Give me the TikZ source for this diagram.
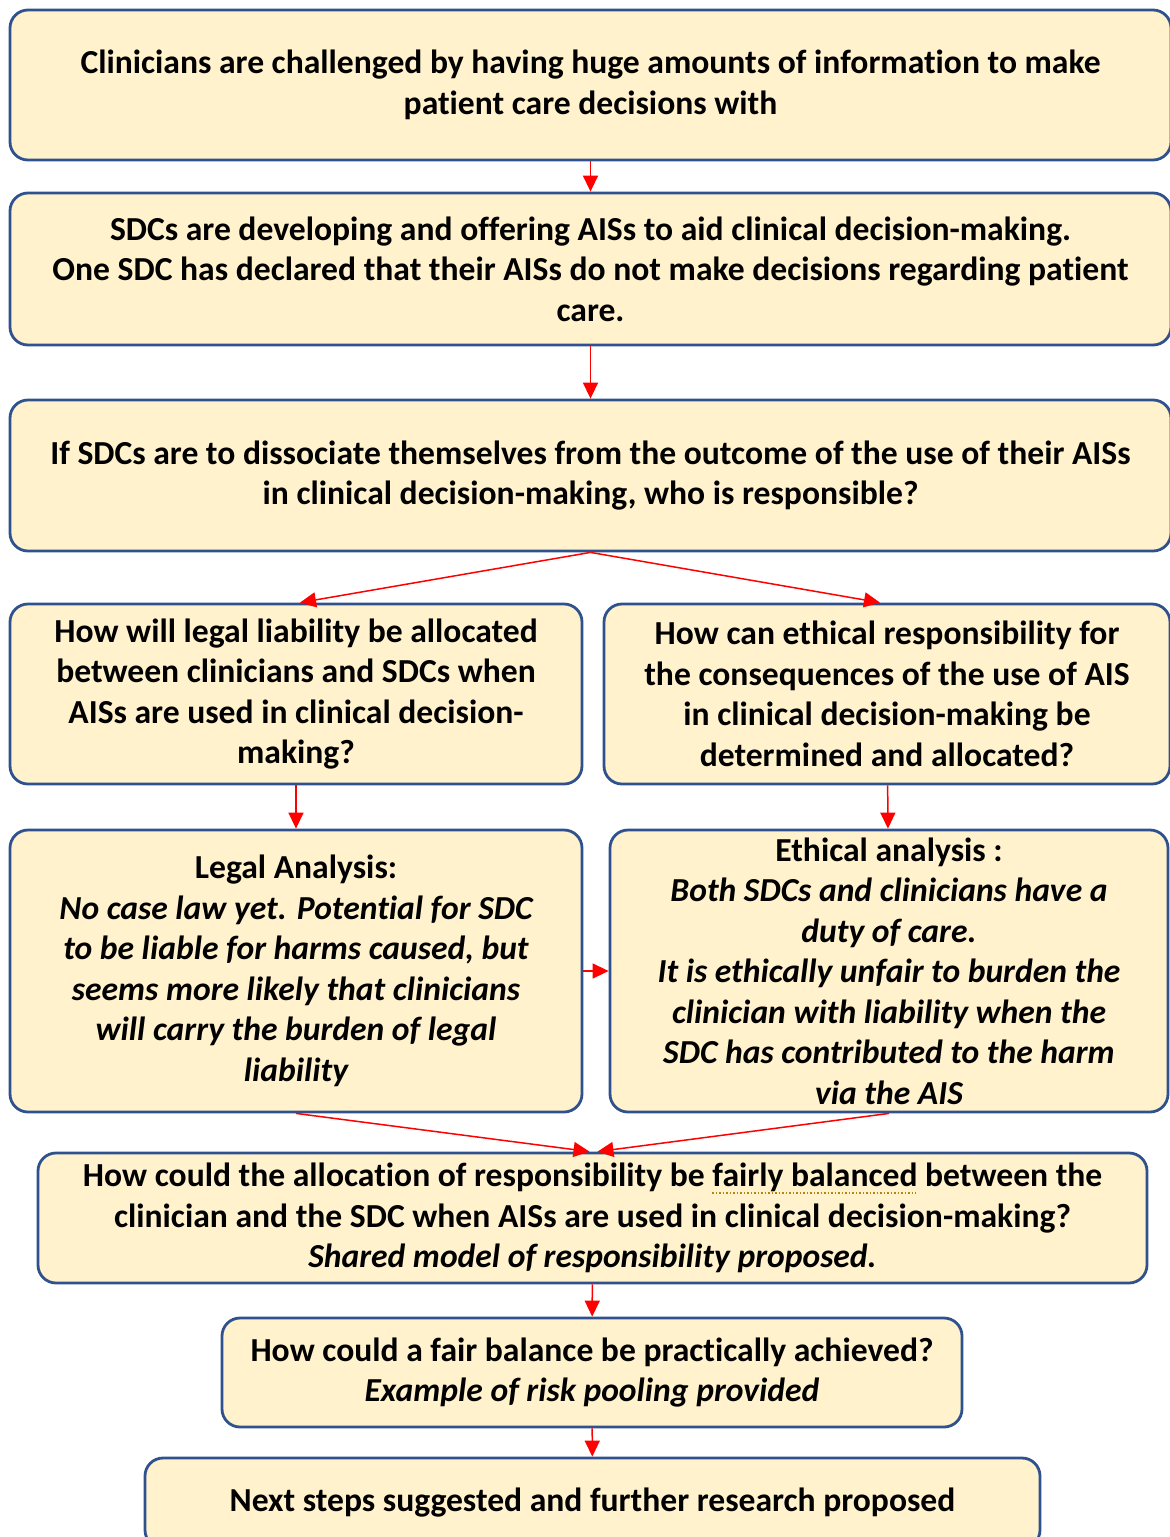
\documentclass[tikz,border=0pt]{standalone}
\usepackage{fontspec}
\setmainfont{Carlito}[Ligatures={NoCommon}]
\usepackage{xcolor}
\usepackage{tikz}
\usetikzlibrary{arrows.meta}
\usetikzlibrary{positioning}

\definecolor{boxfill}{HTML}{FFF2CC}
\definecolor{boxline}{HTML}{2F528F}
\definecolor{squiggle}{HTML}{B8860B}

\tikzset{
  stepbox/.style={draw=boxline, fill=boxfill, line width=2.8pt, rounded corners=18pt,
    align=center, inner sep=0pt, font=\fontsize{33.6}{40.5}\selectfont\bfseries},
  flow/.style={draw=red, line width=1.5pt, -{Triangle[length=16pt,width=15pt]}}
}

\begin{document}
\begin{tikzpicture}[x=1pt,y=-1pt]
        \useasboundingbox (0,0) rectangle (1170,1537);
        \clip (0,0) rectangle (1170,1537);
        \node[stepbox, minimum width=1161pt, minimum height=150pt] (info) at (590.5,85)
          {Clinicians are challenged by having huge amounts of information to make\\patient care decisions with};
        \node[stepbox, minimum width=1161pt, minimum height=152pt] (offer) at (590.5,269)
          {SDCs are developing and offering AISs to aid clinical decision-making.\\One SDC has declared that their AISs do not make decisions regarding patient\\care.};
        \node[stepbox, minimum width=1161pt, minimum height=151pt] (who) at (590.5,475.5)
          {If SDCs are to dissociate themselves from the outcome of the use of their AISs\\in clinical decision-making, who is responsible?};
        \node[stepbox, minimum width=572pt, minimum height=180pt] (legalq) at (296,694)
          {How will legal liability be allocated\\between clinicians and SDCs when\\AISs are used in clinical decision-\\making?};
        \node[stepbox, minimum width=566pt, minimum height=180pt] (ethicq) at (887,694)
          {How can ethical responsibility for\\the consequences of the use of AIS\\in clinical decision-making be\\determined and allocated?};
        \node[stepbox, minimum width=572pt, minimum height=282pt] (legala) at (296,971)
          {Legal Analysis:\\\itshape No case law yet. Potential for SDC\\\itshape to be liable for harms caused, but\\\itshape seems more likely that clinicians\\\itshape will carry the burden of legal\\\itshape liability};
        \node[stepbox, minimum width=558pt, minimum height=282pt] (ethica) at (889,971)
          {Ethical analysis :\\\itshape Both SDCs and clinicians have a\\\itshape duty of care.\\\itshape It is ethically unfair to burden the\\\itshape clinician with liability when the\\\itshape SDC has contributed to the harm\\\itshape via the AIS};
        \node[stepbox, minimum width=1109pt, minimum height=130pt] (balance) at (592.5,1218)
          {How could the allocation of responsibility be fairly balanced between the\\clinician and the SDC when AISs are used in clinical decision-making?\\\itshape Shared model of responsibility proposed.};
        \node[stepbox, minimum width=740pt, minimum height=109pt] (pool) at (592,1372.5)
          {How could a fair balance be practically achieved?\\\itshape Example of risk pooling provided};
        \node[stepbox, minimum width=895pt, minimum height=90pt] (next) at (592.5,1503)
          {Next steps suggested and further research proposed};
        \draw[squiggle, line width=1.5pt, dotted] (712,1193) -- (916,1193);
        \draw[flow] (info) -- (offer);
        \draw[flow] (offer) -- (who);
        \draw[flow] (who.south) -- ([xshift=4pt]legalq.north);
        \draw[flow] (who.south) -- ([xshift=-7pt]ethicq.north);
        \draw[flow] (legalq) -- (legala);
        \draw[flow] (ethicq) -- (ethica);
        \draw[flow] (legala) -- (ethica);
        \draw[flow] (legala.south) -- ([xshift=-3pt]balance.north);
        \draw[flow] (ethica.south) -- ([xshift=5pt]balance.north);
        \draw[flow] (balance) -- (pool);
        \draw[flow] (pool) -- (next);
\end{tikzpicture}
\end{document}
